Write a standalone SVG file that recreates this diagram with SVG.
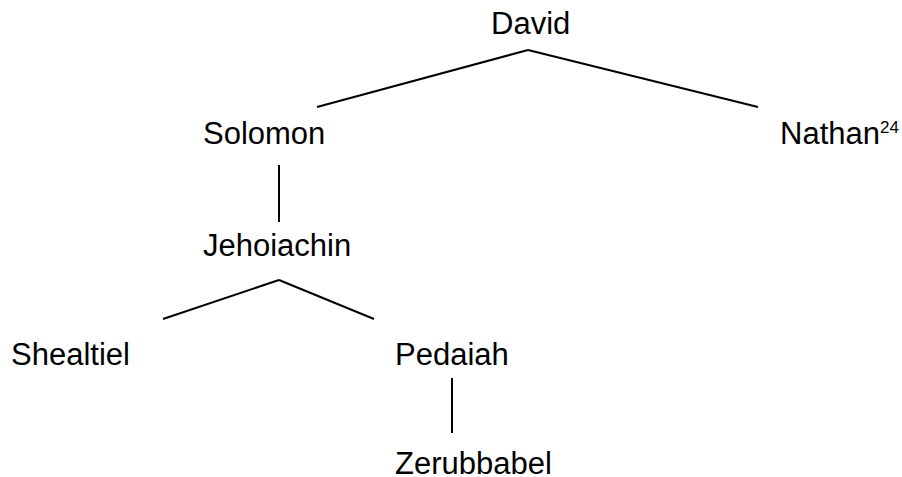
<svg xmlns="http://www.w3.org/2000/svg" width="902" height="477" viewBox="0 0 902 477">
<style>
text{font-family:"Liberation Sans",Arial,sans-serif;font-size:31px;fill:#000}
.sup{font-size:17px}
#connectors line{stroke:#000;stroke-width:2;fill:none}
</style>
<rect width="902" height="477" fill="#fff"/>
<g id="connectors">
<line x1="528" y1="50" x2="317" y2="107"/>
<line x1="528" y1="50" x2="758" y2="107"/>
<line x1="279" y1="165" x2="279" y2="222"/>
<line x1="279" y1="280" x2="163" y2="319"/>
<line x1="279" y1="280" x2="374" y2="319"/>
<line x1="452" y1="378" x2="452" y2="433"/>
</g>
<g id="david"><text x="491" y="34">David</text></g>
<g id="solomon"><text x="203" y="144">Solomon</text></g>
<g id="nathan"><text x="780" y="144">Nathan<tspan class="sup" dy="-11">24</tspan></text></g>
<g id="jehoiachin"><text x="203" y="256">Jehoiachin</text></g>
<g id="shealtiel"><text x="11" y="365">Shealtiel</text></g>
<g id="pedaiah"><text x="395" y="365">Pedaiah</text></g>
<g id="zerubbabel"><text x="395" y="474">Zerubbabel</text></g>
</svg>
